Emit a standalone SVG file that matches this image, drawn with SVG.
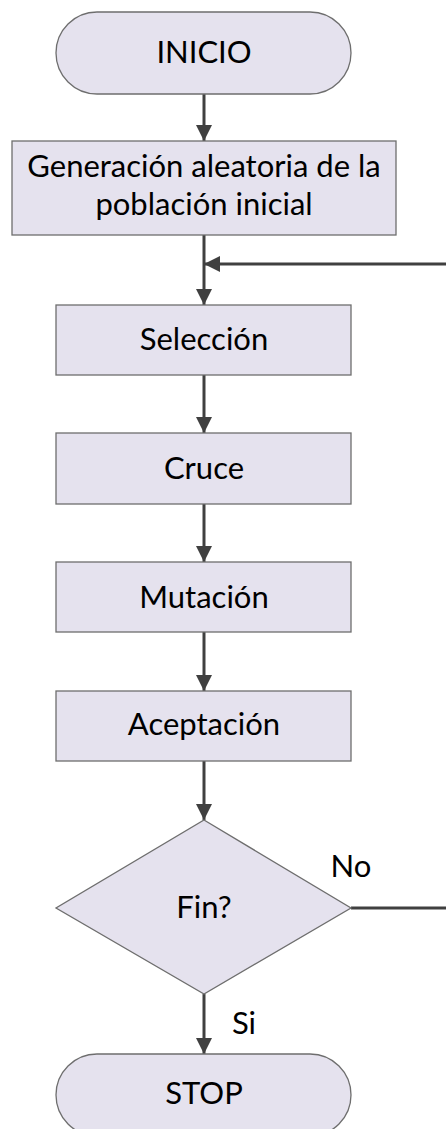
<svg xmlns="http://www.w3.org/2000/svg" width="446" height="1129" viewBox="0 0 446 1129">
  <style>
    .shape { fill: #E5E2EE; stroke: #6E6E6E; stroke-width: 1.3; }
    .label { font-family: Lato, "Open Sans", "Liberation Sans", sans-serif; font-size: 31px; fill: #000; text-anchor: middle; }
    .edge { fill: none; stroke: #404040; stroke-width: 3; }
  </style>
  <defs>
    <marker id="arrow" markerUnits="userSpaceOnUse" viewBox="0 0 16 16" refX="16" refY="8" markerWidth="16" markerHeight="16" orient="auto">
      <path d="M0,0 L16,8 L0,16 Z" fill="#404040"/>
    </marker>
  </defs>

  <!-- connectors -->
  <g id="connectors">
    <line class="edge" x1="204" y1="94" x2="204" y2="141" marker-end="url(#arrow)"/>
    <line class="edge" x1="204" y1="235" x2="204" y2="305" marker-end="url(#arrow)"/>
    <line class="edge" x1="446" y1="264" x2="204" y2="264" marker-end="url(#arrow)"/>
    <line class="edge" x1="204" y1="375" x2="204" y2="433" marker-end="url(#arrow)"/>
    <line class="edge" x1="204" y1="504" x2="204" y2="562" marker-end="url(#arrow)"/>
    <line class="edge" x1="204" y1="632" x2="204" y2="691" marker-end="url(#arrow)"/>
    <line class="edge" x1="204" y1="761" x2="204" y2="820" marker-end="url(#arrow)"/>
    <line class="edge" x1="351" y1="908" x2="446" y2="908"/>
    <line class="edge" x1="204" y1="994" x2="204" y2="1054" marker-end="url(#arrow)"/>
    <text class="label" x="351" y="877">No</text>
    <text class="label" x="244" y="1034">Si</text>
  </g>

  <g id="inicio">
    <rect class="shape" x="56" y="12" width="295" height="82" rx="41" ry="41"/>
    <text class="label" x="204" y="63">INICIO</text>
  </g>

  <g id="generacion">
    <rect class="shape" x="12" y="141" width="384" height="94"/>
    <text class="label" x="204" y="177">Generación aleatoria de la</text>
    <text class="label" x="204" y="215">población inicial</text>
  </g>

  <g id="seleccion">
    <rect class="shape" x="56" y="305" width="295" height="70"/>
    <text class="label" x="204" y="350">Selección</text>
  </g>

  <g id="cruce">
    <rect class="shape" x="56" y="433" width="295" height="71"/>
    <text class="label" x="204" y="479">Cruce</text>
  </g>

  <g id="mutacion">
    <rect class="shape" x="56" y="562" width="295" height="70"/>
    <text class="label" x="204" y="608">Mutación</text>
  </g>

  <g id="aceptacion">
    <rect class="shape" x="56" y="691" width="295" height="70"/>
    <text class="label" x="204" y="735">Aceptación</text>
  </g>

  <g id="fin">
    <polygon class="shape" points="204,820 351,908 204,994 56,908"/>
    <text class="label" x="204" y="918">Fin?</text>
  </g>

  <g id="stop">
    <rect class="shape" x="56" y="1054" width="295" height="82" rx="41" ry="41"/>
    <text class="label" x="204" y="1104">STOP</text>
  </g>
</svg>
